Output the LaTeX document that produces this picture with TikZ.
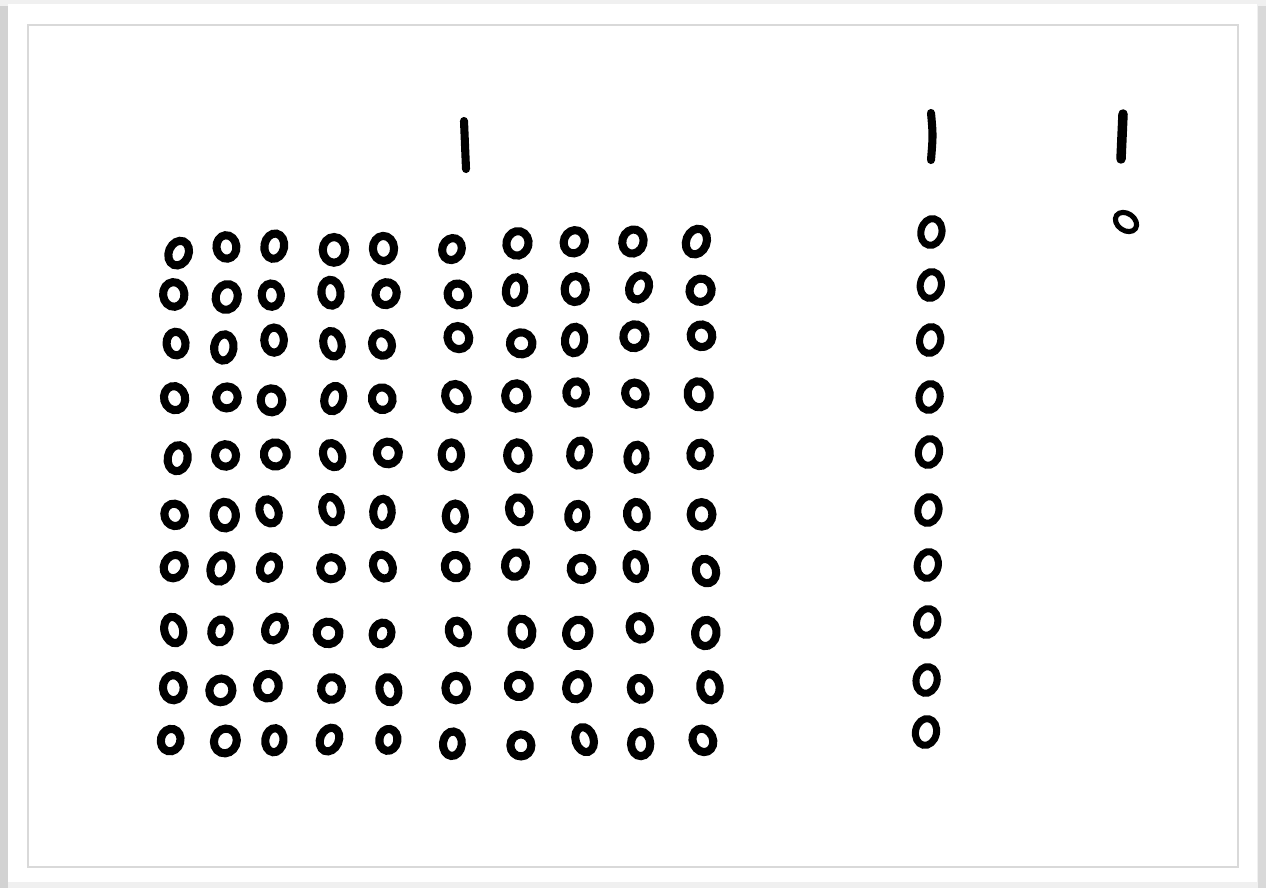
\documentclass[tikz,border=0pt]{standalone}
\usepackage{tikz}

\tikzset{
  ring/.style={line width=4.6pt},
  tally/.style={line width=4.6pt,line cap=round},
}

\begin{document}
\begin{tikzpicture}[x=0.02cm,y=-0.02cm]
\useasboundingbox (0,0) rectangle (1266,888);
% card and frame
\fill[gray!12] (0,0) rectangle (1266,888);
\fill[gray!35] (0,6) rectangle (8,888);
\fill[gray!30] (1258,6) rectangle (1266,888);
\fill[white] (8,4) rectangle (1257,882);
\draw[gray!30,line width=0.8pt] (28,25) rectangle (1238,867);
% tallies
\draw[tally] (464,121) -- (466,169);
\draw[tally] (931,113) .. controls (933,135) .. (931,160);
\draw[tally,line width=5.4pt] (1123,114) -- (1121,159);
% hundred
\pgfmathsetseed{11}
\foreach \y [count=\r] in {250,297,345,400,455,513,568,630,688,742}{
  \foreach \x [count=\c] in {175,224,272,332,386,455,518,579,638,703}{
    \pgfmathsetmacro\jx{(rnd-0.5)*8+(\c-5)*(\r-5)*0.15}
    \pgfmathsetmacro\jy{(rnd-0.5)*7-(\c-1)*(\r<5)*0.8}
    \pgfmathsetmacro\rx{0.18+rnd*0.05}
    \pgfmathsetmacro\ry{0.22+rnd*0.05}
    \pgfmathsetmacro\tilt{(rnd-0.5)*50}
    \draw[ring,rotate around={\tilt:(\x+\jx,\y+\jy)}]
      (\x+\jx,\y+\jy) ellipse [x radius=\rx cm,y radius=\ry cm];
  }
}
% ten
\foreach \y [count=\r] in {232,285,340,397,452,510,565,622,680,732}{
  \pgfmathsetmacro\xx{932-\r*0.6}
  \draw[ring,line width=4pt,rotate around={-12:(\xx,\y)}]
    (\xx,\y) ellipse [x radius=0.21cm,y radius=0.27cm];
}
% one
\draw[ring,line width=2.9pt,rotate around={-35:(1126,222)}]
  (1126,222) ellipse [x radius=0.23cm,y radius=0.17cm];
\end{tikzpicture}
\end{document}
